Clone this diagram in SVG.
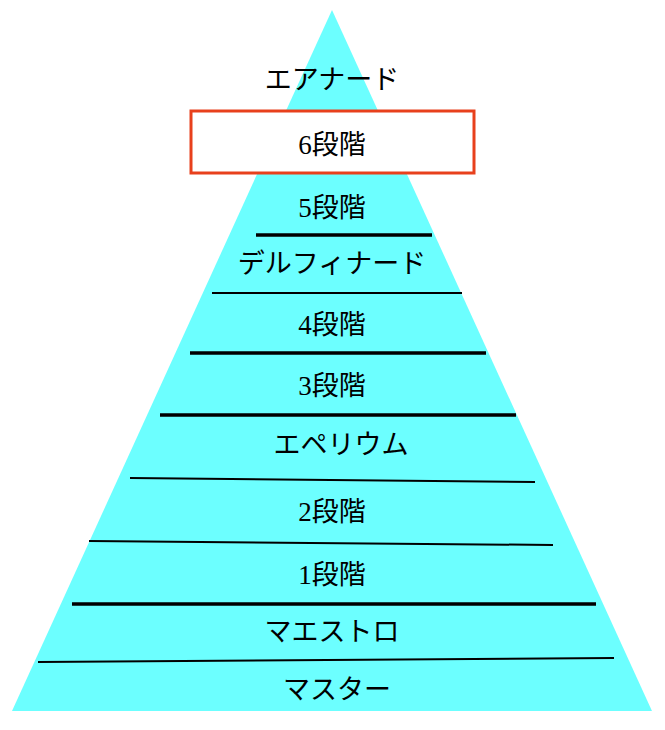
<svg xmlns="http://www.w3.org/2000/svg" width="665" height="730" viewBox="0 0 665 730">
<style>
.t{font-family:"Liberation Serif","Noto Sans CJK JP",serif;font-size:27px;fill:#000;text-anchor:middle;dominant-baseline:central}
.thick{stroke:#000;stroke-width:3.5}
.thin{stroke:#000;stroke-width:2}
</style>
<rect width="665" height="730" fill="#fff"/>
<g id="pyramid"><polygon points="332,10 652,711 12,711" fill="#6cffff"/></g>
<g id="connectors">
<line class="thick" x1="256" y1="235" x2="432" y2="235"/>
<line class="thin" x1="212" y1="293" x2="462" y2="293"/>
<line class="thick" x1="190" y1="353" x2="486" y2="353"/>
<line class="thick" x1="160" y1="415" x2="516" y2="415"/>
<line class="thin" x1="130" y1="478" x2="535" y2="482"/>
<line class="thin" x1="89" y1="541" x2="553" y2="545"/>
<line class="thick" x1="72" y1="604" x2="596" y2="604"/>
<line class="thin" x1="38" y1="662" x2="614" y2="658"/>
</g>
<g id="n-aernard"><text class="t" x="332" y="80">エアナード</text></g>
<g id="n-6"><rect x="191" y="111" width="283" height="62" fill="#fff" stroke="#e8401c" stroke-width="3"/><text class="t" x="332" y="145">6段階</text></g>
<g id="n-5"><text class="t" x="332" y="208">5段階</text></g>
<g id="n-delfinard"><text class="t" x="332" y="264">デルフィナード</text></g>
<g id="n-4"><text class="t" x="332" y="325">4段階</text></g>
<g id="n-3"><text class="t" x="332" y="386">3段階</text></g>
<g id="n-eperium"><text class="t" x="341" y="445">エペリウム</text></g>
<g id="n-2"><text class="t" x="332" y="512">2段階</text></g>
<g id="n-1"><text class="t" x="332" y="575">1段階</text></g>
<g id="n-maestro"><text class="t" x="332" y="632">マエストロ</text></g>
<g id="n-master"><text class="t" x="337" y="690">マスター</text></g>
</svg>
